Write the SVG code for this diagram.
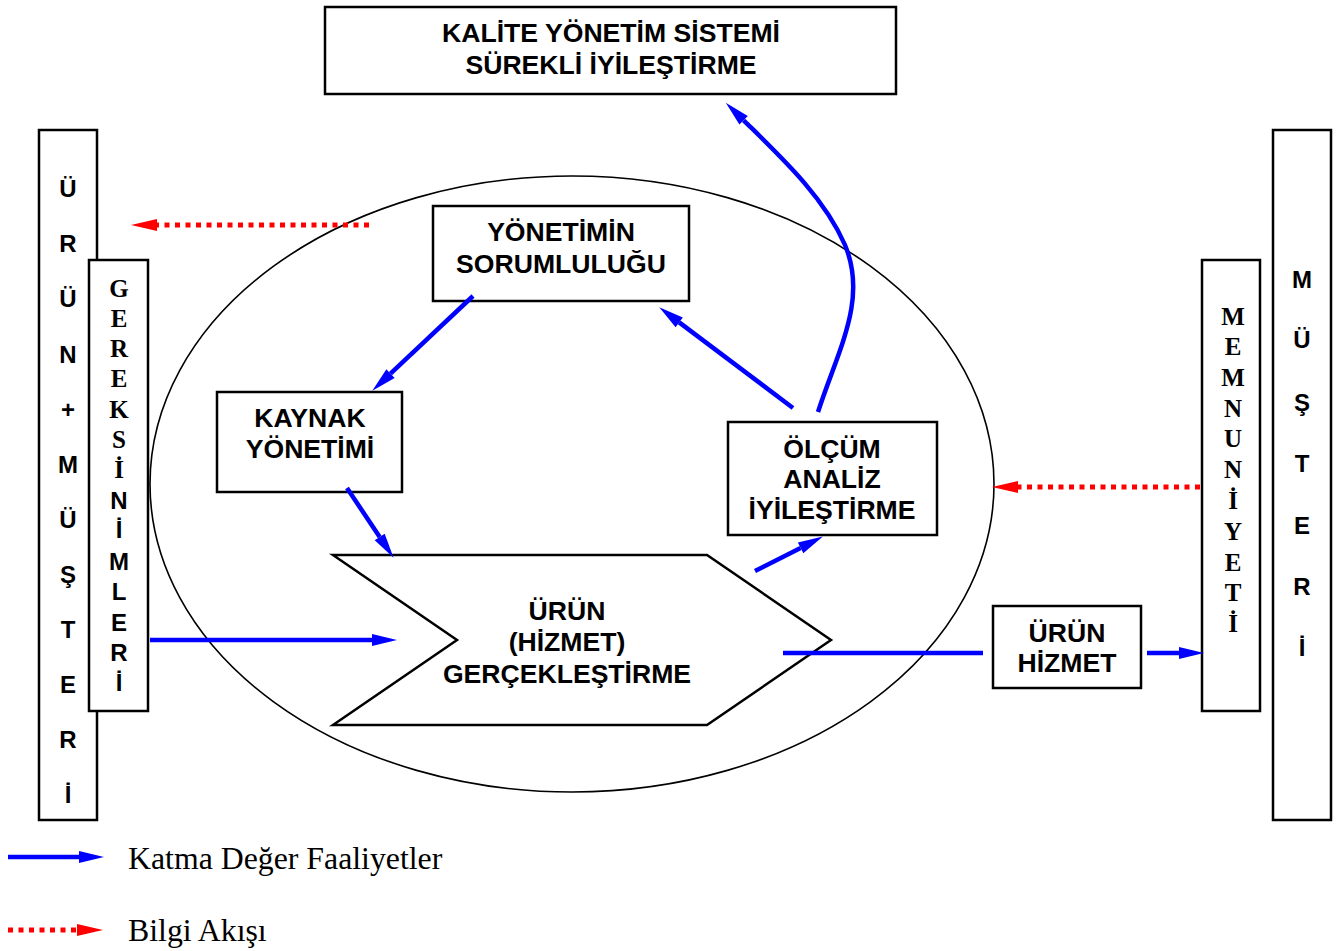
<svg xmlns="http://www.w3.org/2000/svg" width="1336" height="951" viewBox="0 0 1336 951">
<style>
.box{fill:#fff;stroke:#000;stroke-width:2.5}
.t{font-family:"Liberation Sans",Arial,sans-serif;font-weight:bold;font-size:26.6px;text-anchor:middle;fill:#000}
.v{font-family:"Liberation Sans",Arial,sans-serif;font-weight:bold;font-size:24px;text-anchor:middle;fill:#000}
.vs{font-family:"Liberation Serif","Times New Roman",serif;font-weight:bold;font-size:25px;text-anchor:middle;fill:#000}
.blue{fill:none;stroke:#0000FF;stroke-width:4.5}
.red{fill:none;stroke:#FF0000;stroke-width:5;stroke-dasharray:5 5.5}
.leg{font-family:"Liberation Serif","Times New Roman",serif;font-size:31.8px;fill:#000}
</style>
<defs>
<marker id="hb" markerUnits="userSpaceOnUse" markerWidth="26" markerHeight="14" refX="0" refY="6" orient="auto" overflow="visible">
<path d="M0,0 L25,6 L0,12 Z" fill="#0000FF"/>
</marker>
<marker id="hr" markerUnits="userSpaceOnUse" markerWidth="28" markerHeight="14" refX="0" refY="6" orient="auto" overflow="visible">
<path d="M0,0 L26,6 L0,12 Z" fill="#FF0000"/>
</marker>
</defs>
<rect width="1336" height="951" fill="#fff"/>

<g id="ellipse">
<ellipse cx="572" cy="484" rx="422" ry="308" fill="none" stroke="#000" stroke-width="1.6"/>
</g>

<g id="kalite">
<rect class="box" x="325" y="7" width="571" height="87"/>
<text class="t" x="611" y="42">KALİTE YÖNETİM SİSTEMİ</text>
<text class="t" x="611" y="74">SÜREKLİ İYİLEŞTİRME</text>
</g>

<g id="urun-musteri">
<rect class="box" x="39" y="130" width="58" height="690"/>
<text class="v" x="68" y="197">Ü</text>
<text class="v" x="68" y="252">R</text>
<text class="v" x="68" y="307">Ü</text>
<text class="v" x="68" y="363">N</text>
<text class="v" x="68" y="418">+</text>
<text class="v" x="68" y="473">M</text>
<text class="v" x="68" y="528">Ü</text>
<text class="v" x="68" y="583">Ş</text>
<text class="v" x="68" y="638">T</text>
<text class="v" x="68" y="693">E</text>
<text class="v" x="68" y="748">R</text>
<text class="v" x="68" y="803">İ</text>
</g>

<g id="gereksinimleri">
<rect class="box" x="89" y="260" width="59" height="451"/>
<text class="vs" x="119" y="297">G</text>
<text class="vs" x="119" y="327">E</text>
<text class="vs" x="119" y="357">R</text>
<text class="vs" x="119" y="387">E</text>
<text class="vs" x="119" y="418">K</text>
<text class="vs" x="119" y="448">S</text>
<text class="vs" x="119" y="478">İ</text>
<text class="v" x="119" y="509">N</text>
<text class="v" x="119" y="538">İ</text>
<text class="v" x="119" y="570">M</text>
<text class="v" x="119" y="600">L</text>
<text class="v" x="119" y="631">E</text>
<text class="v" x="119" y="661">R</text>
<text class="v" x="119" y="691">İ</text>
</g>

<g id="memnuniyeti">
<rect class="box" x="1202" y="260" width="58" height="451"/>
<text class="vs" x="1233" y="325">M</text>
<text class="vs" x="1233" y="355">E</text>
<text class="vs" x="1233" y="386">M</text>
<text class="vs" x="1233" y="417">N</text>
<text class="vs" x="1233" y="447">U</text>
<text class="vs" x="1233" y="478">N</text>
<text class="vs" x="1233" y="509">İ</text>
<text class="vs" x="1233" y="540">Y</text>
<text class="vs" x="1233" y="571">E</text>
<text class="vs" x="1233" y="601">T</text>
<text class="vs" x="1233" y="632">İ</text>
</g>

<g id="musteri">
<rect class="box" x="1273" y="130" width="58" height="690"/>
<text class="v" x="1302" y="288">M</text>
<text class="v" x="1302" y="348">Ü</text>
<text class="v" x="1302" y="411">Ş</text>
<text class="v" x="1302" y="472">T</text>
<text class="v" x="1302" y="534">E</text>
<text class="v" x="1302" y="595">R</text>
<text class="v" x="1302" y="656">İ</text>
</g>

<g id="yonetim">
<rect class="box" x="433" y="206" width="256" height="95"/>
<text class="t" x="561" y="241">YÖNETİMİN</text>
<text class="t" x="561" y="273">SORUMLULUĞU</text>
</g>

<g id="kaynak">
<rect class="box" x="217" y="392" width="185" height="100"/>
<text class="t" x="310" y="427">KAYNAK</text>
<text class="t" x="310" y="458">YÖNETİMİ</text>
</g>

<g id="olcum">
<rect class="box" x="728" y="422" width="209" height="113"/>
<text class="t" x="832" y="458">ÖLÇÜM</text>
<text class="t" x="832" y="488">ANALİZ</text>
<text class="t" x="832" y="519">İYİLEŞTİRME</text>
</g>

<g id="gerceklestirme">
<polygon class="box" points="333,555 707,555 831,640 707,725 333,725 457,640"/>
<text class="t" x="567" y="620">ÜRÜN</text>
<text class="t" x="567" y="651">(HİZMET)</text>
<text class="t" x="567" y="683">GERÇEKLEŞTİRME</text>
</g>

<g id="urun-hizmet">
<rect class="box" x="993" y="606" width="148" height="82"/>
<text class="t" x="1067" y="642">ÜRÜN</text>
<text class="t" x="1067" y="672">HİZMET</text>
</g>

<g id="connectors">
<path class="blue" d="M473,296 L390.5,373.6" marker-end="url(#hb)"/>
<path class="blue" d="M347,488 L379.7,537" marker-end="url(#hb)"/>
<path class="blue" d="M755,571 L800.6,547.9" marker-end="url(#hb)"/>
<path class="blue" d="M793,408 L679.2,322.4" marker-end="url(#hb)"/>
<path class="blue" d="M818,412 C838,350 868,300 845,245 C824,197 782,158 743.6,120.3" marker-end="url(#hb)"/>
<path class="blue" d="M150,640 L372,640" marker-end="url(#hb)"/>
<path class="blue" d="M783,653 L983,653" stroke-width="5"/>
<path class="blue" d="M1147,653 L1179,653" stroke-width="5" marker-end="url(#hb)"/>
<path class="red" d="M369,225 L157,225" marker-end="url(#hr)"/>
<path class="red" d="M1200,487 L1018,487" marker-end="url(#hr)"/>
</g>

<g id="legend">
<path class="blue" d="M8,857 L79,857" stroke-width="5" marker-end="url(#hb)"/>
<text class="leg" x="128" y="869">Katma Değer Faaliyetler</text>
<path class="red" d="M8,930 L77,930" marker-end="url(#hr)"/>
<text class="leg" x="128" y="941">Bilgi Akışı</text>
</g>
</svg>
